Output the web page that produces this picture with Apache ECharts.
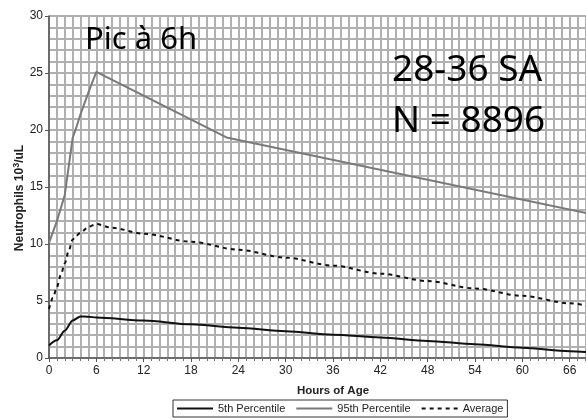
<!DOCTYPE html>
<html>
<head>
<meta charset="utf-8">
<script src="https://cdn.jsdelivr.net/npm/echarts@6/dist/echarts.min.js"></script>
<style>
  html, body { margin: 0; padding: 0; background: #fff; }
  #chart { width: 586px; height: 420px; }
</style>
</head>
<body>
<div id="chart"></div>
<script>
// Neutrophil reference curves, 28-36 weeks of gestation (hours of age vs 10^3/uL)
const p5Hours   = [0, 1, 2, 3, 4, 5, 6, 12, 18, 24, 30, 36, 42, 48, 54, 60, 66, 68.5];
const p5Values  = [1.1, 1.55, 2.4, 3.3, 3.65, 3.62, 3.55, 3.28, 2.95, 2.65, 2.35, 2.05, 1.8, 1.5, 1.2, 0.9, 0.6, 0.5];

const p95Hours  = [0, 1, 2, 2.5, 3, 3.5, 4, 5, 6, 22.5, 68.5];
const p95Values = [10.1, 12.0, 14.3, 16.8, 19.3, 20.3, 21.4, 23.3, 25.1, 19.35, 12.65];

const avgHours  = [0, 0.5, 1, 1.5, 2, 2.5, 3, 3.5, 4, 5, 6, 8, 12, 18, 24, 30, 36, 42, 48, 54, 60, 66, 68.5];
const avgValues = [4.3, 5.3, 6.2, 7.3, 8.3, 9.4, 10.4, 10.75, 11.0, 11.5, 11.75, 11.42, 10.9, 10.2, 9.5, 8.8, 8.1, 7.4, 6.75, 6.1, 5.45, 4.8, 4.55];

const seriesNames = ['5th Percentile', '95th Percentile', 'Average'];
const annotations = ['Pic à 6h', '28-36 SA', 'N = 8896'];
const yTitle = 'Neutrophils 10{sup|3}/uL';

const pairs = (xs, ys) => xs.map((x, i) => [x, ys[i]]);

const gridColor = '#b0b0b0';
const labelFont = 'Liberation Sans, Arial';
const chart = echarts.init(document.getElementById('chart'), null, { renderer: 'canvas' });

chart.setOption({
  animation: false,
  backgroundColor: '#fff',
  // the 72 h end of the axis runs past the right edge of the canvas
  grid: { left: 49, top: 16, width: 568, height: 342, containLabel: false, outerBoundsMode: 'none' },
  xAxis: {
    type: 'value', min: 0, max: 72, interval: 6,
    name: 'Hours of Age', nameLocation: 'middle', nameGap: 27,
    nameTextStyle: { fontFamily: labelFont, fontWeight: 'bold', fontSize: 11.5, color: '#222' },
    axisLine: { show: true, lineStyle: { color: '#555', width: 1.5 } },
    axisTick: { show: true, length: 4, lineStyle: { color: '#555' } },
    minorTick: { show: true, splitNumber: 6, length: 3, lineStyle: { color: '#777' } },
    axisLabel: { fontFamily: labelFont, fontSize: 12, color: '#222', margin: 7 },
    splitLine: { show: true, lineStyle: { color: gridColor, width: 2 } },
    minorSplitLine: { show: true, lineStyle: { color: gridColor, width: 2 } }
  },
  yAxis: {
    type: 'value', min: 0, max: 30, interval: 5,
    axisLine: { show: true, lineStyle: { color: '#555', width: 1.5 } },
    axisTick: { show: true, length: 4, lineStyle: { color: '#555' } },
    axisLabel: { fontFamily: labelFont, fontSize: 12, color: '#222', margin: 6 },
    splitLine: { show: true, lineStyle: { color: gridColor, width: 2 } },
    minorTick: { show: false, splitNumber: 5 },
    minorSplitLine: { show: true, lineStyle: { color: gridColor, width: 2 } }
  },
  legend: {
    data: seriesNames,
    left: 173, top: 400,
    orient: 'horizontal',
    itemWidth: 36, itemHeight: 2, itemGap: 10,
    padding: [3, 4, 3, 3],
    borderColor: '#333', borderWidth: 1,
    itemStyle: { opacity: 0 },
    textStyle: { fontFamily: labelFont, fontSize: 11, color: '#222' }
  },
  series: [
    {
      name: seriesNames[0], type: 'line', data: pairs(p5Hours, p5Values),
      showSymbol: false, symbol: 'none', smooth: 0.3, smoothMonotone: 'x',
      lineStyle: { color: '#111', width: 2 }, itemStyle: { color: '#111' }, z: 4
    },
    {
      name: seriesNames[1], type: 'line', data: pairs(p95Hours, p95Values),
      showSymbol: false, symbol: 'none', smooth: false,
      lineStyle: { color: '#7a7a7a', width: 2 }, itemStyle: { color: '#7a7a7a' }, z: 3
    },
    {
      name: seriesNames[2], type: 'line', data: pairs(avgHours, avgValues),
      showSymbol: false, symbol: 'none', smooth: 0.3, smoothMonotone: 'x',
      lineStyle: { color: '#111', width: 2, type: [4, 4] }, itemStyle: { color: '#111' }, z: 4
    }
  ],
  graphic: [
    // rotated y-axis title with a superscript exponent
    { type: 'text', x: 20, y: 198, rotation: Math.PI / 2, z: 10,
      style: {
        text: yTitle, align: 'center', verticalAlign: 'middle',
        font: 'bold 12px "Liberation Sans", Arial', fill: '#222',
        rich: { sup: { font: 'bold 9px "Liberation Sans", Arial', fill: '#222', verticalAlign: 'top', padding: [0, 0, 6, 0] } }
      } },
    { type: 'text', left: 85, top: 25, z: 10,
      style: { text: annotations[0], font: '31px "Noto Sans"', fill: '#000' } },
    { type: 'text', left: 392, top: 52, z: 10,
      style: { text: annotations[1], font: '37px "Noto Sans"', fill: '#000' } },
    { type: 'text', left: 392, top: 103, z: 10,
      style: { text: annotations[2], font: '37px "Noto Sans"', fill: '#000' } }
  ]
});
</script>
</body>
</html>
